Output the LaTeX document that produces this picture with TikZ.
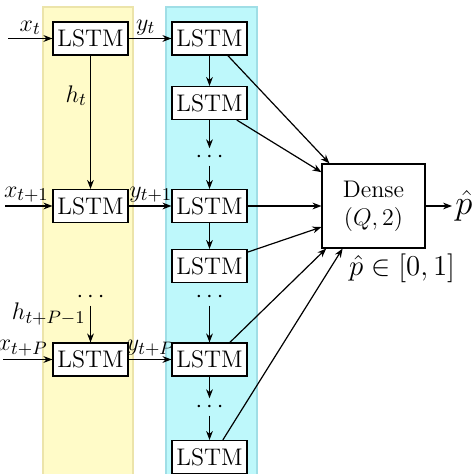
\documentclass[tikz,border=0pt]{standalone}
\usetikzlibrary{arrows.meta}
\definecolor{bandyellow}{RGB}{255,251,200}
\definecolor{bandyellowedge}{RGB}{236,228,170}
\definecolor{bandcyan}{RGB}{190,248,251}
\definecolor{bandcyanedge}{RGB}{160,222,230}
\begin{document}
\begin{tikzpicture}[x=0.5pt,y=-0.5pt,
  font=\fontsize{12}{14}\selectfont,
  lstm/.style={draw,fill=white,line width=0.55pt,minimum width=37.5pt,minimum height=16.5pt,inner sep=0pt},
  densebox/.style={draw,fill=white,line width=0.55pt,minimum width=51.5pt,minimum height=42pt,inner sep=0pt,align=center},
  arr/.style={-{Stealth[length=4.5pt,width=3.4pt]},line width=0.6pt},
  dotsnode/.style={inner sep=1.5pt,font=\fontsize{12}{14}\selectfont\bfseries},
  lbl/.style={inner sep=1.5pt,font=\fontsize{12.5}{15}\selectfont}]
\useasboundingbox (0,0) rectangle (474,474);
% bands
\fill[bandyellow,draw=bandyellowedge,line width=0.8pt] (43,7) rectangle (133,480);
\fill[bandcyan,draw=bandcyanedge,line width=0.8pt] (166,7) rectangle (257,480);
% left column
\node[lstm] (l1) at (90.5,38.5) {LSTM};
\node[lstm] (l2) at (90.5,206) {LSTM};
\node[lstm] (l3) at (90.5,359.5) {LSTM};
\node[dotsnode] (ld) at (90.5,297) {$\cdots$};
% right column
\node[lstm] (r1) at (209.5,38.5) {LSTM};
\node[lstm] (r2) at (209.5,103) {LSTM};
\node[dotsnode] (d1) at (209.5,157) {$\cdots$};
\node[lstm] (r3) at (209.5,206) {LSTM};
\node[lstm] (r4) at (209.5,266) {LSTM};
\node[dotsnode] (d2) at (209.5,297) {$\cdots$};
\node[lstm] (r5) at (209.5,359.5) {LSTM};
\node[dotsnode] (d3) at (209.5,407) {$\cdots$};
\node[lstm] (r6) at (209.5,457) {LSTM};
% dense
\node[densebox] (dense) at (373.5,206) {Dense\\$(Q,2)$};
\node[lbl,font=\fontsize{14}{16}\selectfont] (range) at (402,268) {$\hat{p}\in[0,1]$};
\node[lbl,anchor=west,font=\fontsize{17}{19}\selectfont] (pout) at (452,206) {$\hat{p}$};
% inputs
\coordinate (x1) at (8,38.5);
\coordinate (x2) at (5,206);
\coordinate (x3) at (3,359.5);
\draw[arr] (x1) -- node[above,lbl,pos=0.5] {$x_t$} (l1.west);
\draw[arr] (x2) -- node[above,lbl,pos=0.45] {$x_{t+1}$} (l2.west);
\draw[arr] (x3) -- node[above,lbl,pos=0.4] {$x_{t+P}$} (l3.west);
% y connections
\draw[arr] (l1.east) -- node[above,lbl,pos=0.4] {$y_t$} (r1.west);
\draw[arr] (l2.east) -- node[above,lbl,pos=0.52] {$y_{t+1}$} (r3.west);
\draw[arr] (l3.east) -- node[above,lbl,pos=0.52] {$y_{t+P}$} (r5.west);
% hidden states
\draw[arr] (l1.south) -- node[left,lbl,pos=0.3] {$h_t$} (l2.north);
\draw[arr] (ld.south) -- (l3.north);
\node[lbl,anchor=east] (hlab) at (89,314) {$h_{t+P-1}$};
% right column vertical
\draw[arr] (r1.south) -- (r2.north);
\draw[arr] (r2.south) -- (d1.north);
\draw[arr] (d1.south) -- (r3.north);
\draw[arr] (r3.south) -- (r4.north);
\draw[arr] (d2.south) -- (r5.north);
\draw[arr] (r5.south) -- (d3.north);
\draw[arr] (d3.south) -- (r6.north);
% into dense
\draw[arr] (r1.-43) -- (dense.136);
\draw[arr] (r2.-32) -- (dense.147);
\draw[arr] (r3.east) -- (dense.west);
\draw[arr] (r4.20) -- (dense.202);
\draw[arr] (r5.40) -- (dense.222);
\draw[arr] (r6.52) -- (dense.234);
% output
\draw[arr] (dense.east) -- (pout.west);
\end{tikzpicture}
\end{document}
